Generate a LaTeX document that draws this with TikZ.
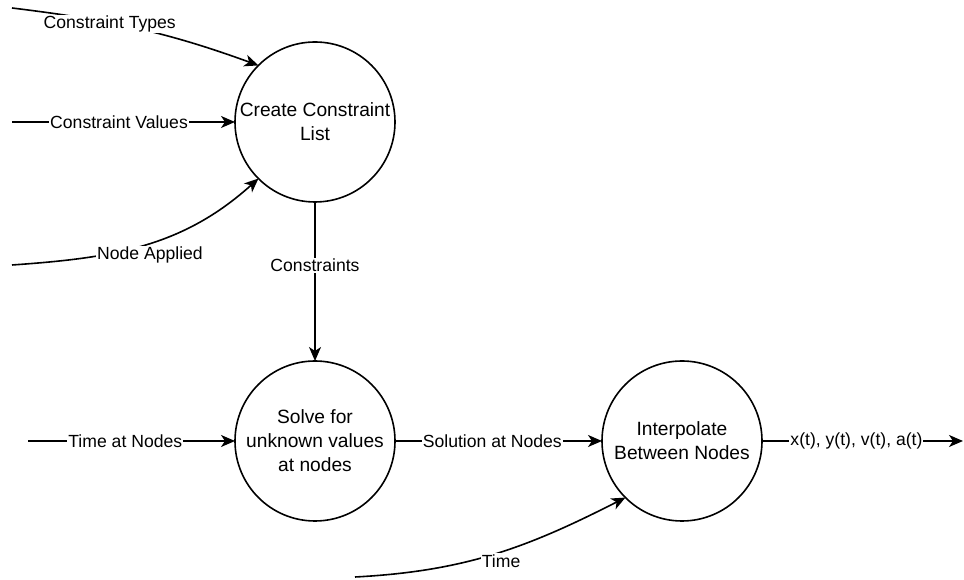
\documentclass[tikz,border=0pt]{standalone}
\usepackage{fontspec}
\setmainfont{Liberation Sans}
\usetikzlibrary{positioning, arrows.meta}

\begin{document}
\begin{tikzpicture}[x=1pt, y=1pt, ->, >={Stealth[length=14pt, width=12pt, inset=4pt]}, line width=1.6pt,
    process/.style={circle, draw, minimum size=160pt, inner sep=0pt, outer sep=0pt, align=center,
      font=\fontsize{19.2}{24}\selectfont},
    lbl/.style={fill=white, inner sep=1pt, font=\fontsize{17.6}{21}\selectfont}]
  \useasboundingbox (0,0) rectangle (964,580);

  \node[process] (create) at (315,458) {Create Constraint\\List};
  \node[process] (solve) [below=159pt of create] {Solve for\\unknown values\\at nodes};
  \node[process] (interp) [right=207pt of solve] {Interpolate\\Between Nodes};

  \coordinate (typesIn) at (12,572);
  \coordinate (valuesIn) at (12,458);
  \coordinate (appliedIn) at (12,315);
  \coordinate (timeNodesIn) at (28,139);
  \coordinate (timeIn) at (355,3);
  \coordinate (resultOut) at (963,139);

  \draw (typesIn) to[out=-7, in=160] node[lbl, pos=0.38, yshift=-1pt] {Constraint Types} (create.135);
  \draw (valuesIn) -- node[lbl, pos=0.48] {Constraint Values} (create);
  \draw (appliedIn) to[out=4, in=222] node[lbl, pos=0.5, xshift=5pt, yshift=-10pt] {Node Applied} (create.225);
  \draw (create) -- node[lbl, pos=0.4] {Constraints} (solve);
  \draw (timeNodesIn) -- node[lbl, pos=0.47] {Time at Nodes} (solve);
  \draw (solve) -- node[lbl, pos=0.47] {Solution at Nodes} (interp);
  \draw (timeIn) to[out=3, in=207] node[lbl, pos=0.55, xshift=-6pt, yshift=-11pt] {Time} (interp.225);
  \draw (interp) -- node[lbl, pos=0.47] {x(t), y(t), v(t), a(t)} (resultOut);
\end{tikzpicture}
\end{document}
